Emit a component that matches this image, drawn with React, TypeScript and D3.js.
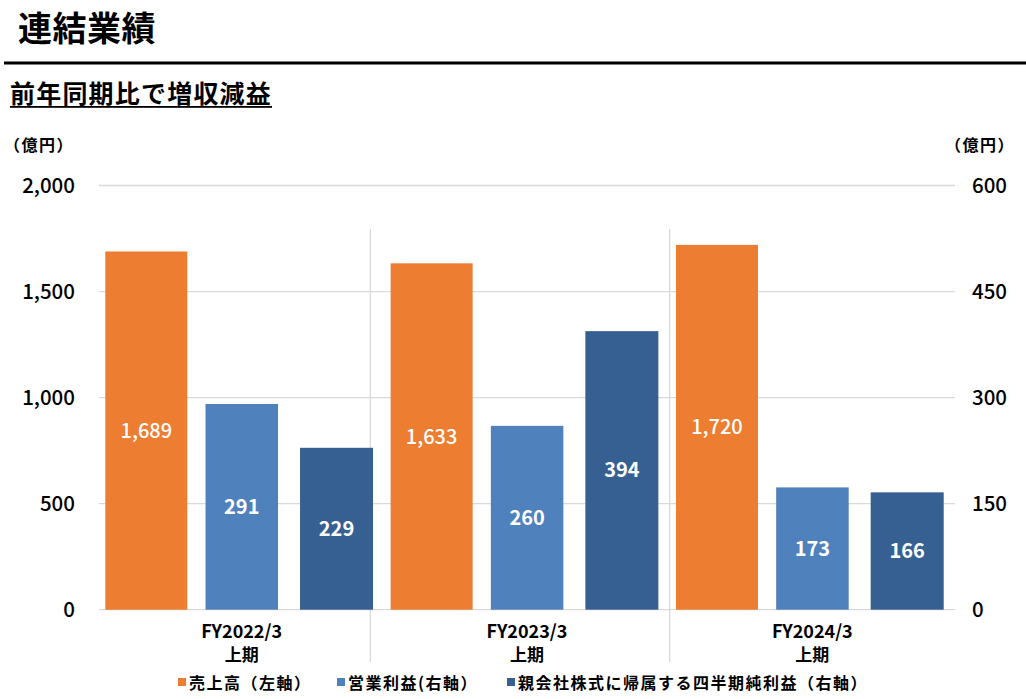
import React from "react";
import * as d3 from "d3";

const categories = ["FY2022/3", "FY2023/3", "FY2024/3"];
const categorySub = ["上期", "上期", "上期"];
const sales = [1689, 1633, 1720];
const operatingProfit = [291, 260, 173];
const netProfit = [229, 394, 166];
const leftTicks = [0, 500, 1000, 1500, 2000];
const rightTicks = [0, 150, 300, 450, 600];
const seriesNames = ["売上高（左軸）", "営業利益(右軸）", "親会社株式に帰属する四半期純利益（右軸）"];
const colors = ["#ED7D31", "#4F81BD", "#376092"];

const W = 1026;
const H = 699;
const plotL = 99;
const plotR = 955;
const plotT = 185.5;
const plotB = 609.7;

const FONT = "'Noto Sans CJK JP', 'Noto Sans', sans-serif";

export default function App() {
  const x = d3.scaleBand<string>().domain(categories).range([plotL, plotR]).padding(0);
  const step = x.step();
  const yL = d3.scaleLinear().domain([0, 2000]).range([plotB, plotT]);
  const yR = d3.scaleLinear().domain([0, 600]).range([plotB, plotT]);
  const fmt = d3.format(",");

  const barSpec = [
    { values: sales, scale: yL, off: 6.3 / 285.3, w: 82 / 285.3, weight: 500 },
    { values: operatingProfit, scale: yR, off: 106.5 / 285.3, w: 72.5 / 285.3, weight: 700 },
    { values: netProfit, scale: yR, off: 201 / 285.3, w: 73 / 285.3, weight: 700 },
  ];
  const sepFractions = [0.951, 2.0];

  const legendItems = [
    { x: 178, name: seriesNames[0], c: colors[0] },
    { x: 337, name: seriesNames[1], c: colors[1] },
    { x: 507, name: seriesNames[2], c: colors[2] },
  ];

  return (
    <svg width={W} height={H} style={{ position: "absolute", left: 0, top: 0, background: "#fff" }} fontFamily={FONT}>
      <rect width={W} height={H} fill="#fff" />
      <text x={18} y={41} fontSize={34} fontWeight={700} fill="#000" letterSpacing={0.5}>連結業績</text>
      <rect x={4} y={61.5} width={W - 4} height={3} fill="#000" />
      <text x={10} y={103} fontSize={25} fontWeight={700} fill="#000" letterSpacing={1.2}>前年同期比で増収減益</text>
      <rect x={10} y={106} width={262} height={1.8} fill="#000" />

      <text x={4} y={151} fontSize={16} fontWeight={700} letterSpacing={1.5}>（億円）</text>
      <text x={945} y={151} fontSize={16} fontWeight={700} letterSpacing={1.5}>（億円）</text>

      {leftTicks.map((t) => (
        <line key={"g" + t} x1={plotL} x2={plotR} y1={yL(t)} y2={yL(t)} stroke="#d9d9d9" strokeWidth={1.3} />
      ))}
      {sepFractions.map((f, i) => (
        <line key={"s" + i} x1={plotL + f * step} x2={plotL + f * step} y1={229} y2={662} stroke="#d9d9d9" strokeWidth={1.3} />
      ))}

      {leftTicks.map((t) => (
        <text key={"l" + t} x={75} y={yL(t) + 7} textAnchor="end" fontSize={20.5} fontWeight={500} fill="#000">{fmt(t)}</text>
      ))}
      {rightTicks.map((t) => (
        <text key={"r" + t} x={972} y={yR(t) + 7} textAnchor="start" fontSize={20.5} fontWeight={500} fill="#000">{t}</text>
      ))}

      {barSpec.map((s, si) =>
        categories.map((c, ci) => {
          const x0 = (x(c) as number) + s.off * step;
          const bw = s.w * step;
          const top = s.scale(s.values[ci]);
          return (
            <g key={si + "-" + ci}>
              <rect x={x0} y={top} width={bw} height={plotB - top} fill={colors[si]} />
              <text x={x0 + bw / 2} y={(top + plotB) / 2 + 7} textAnchor="middle" fontSize={20} fontWeight={s.weight} fill="#fff">
                {fmt(s.values[ci])}
              </text>
            </g>
          );
        })
      )}

      {categories.map((c, ci) => (
        <g key={"c" + c}>
          <text x={(x(c) as number) + step / 2} y={638} textAnchor="middle" fontSize={18} fontWeight={700}>{c}</text>
          <text x={(x(c) as number) + step / 2} y={661} textAnchor="middle" fontSize={17} fontWeight={700}>{categorySub[ci]}</text>
        </g>
      ))}

      {legendItems.map((l) => (
        <g key={l.name}>
          <rect x={l.x} y={678} width={8} height={8} fill={l.c} />
          <text x={l.x + 11} y={689} fontSize={16} fontWeight={700} letterSpacing={1.5}>{l.name}</text>
        </g>
      ))}
    </svg>
  );
}
